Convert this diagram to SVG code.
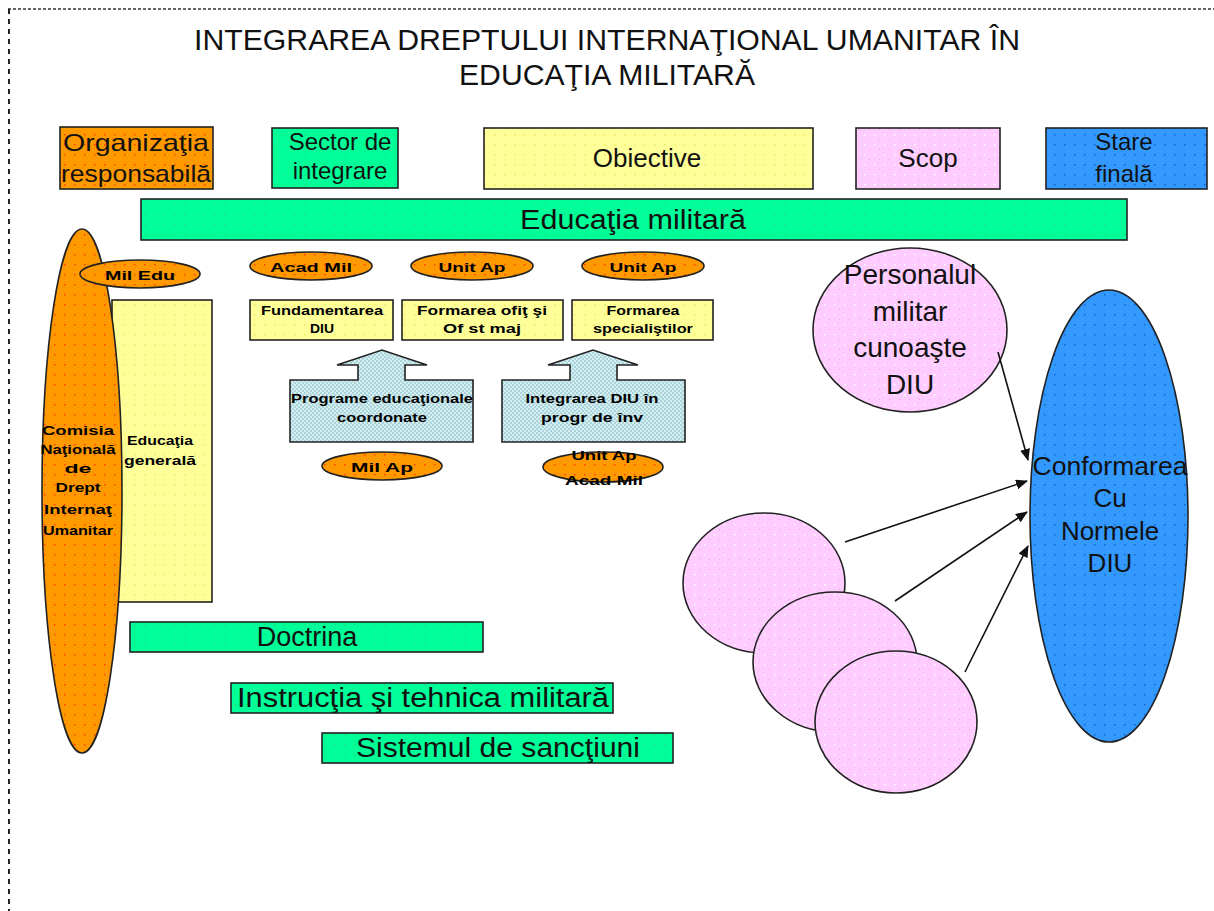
<svg xmlns="http://www.w3.org/2000/svg" width="1214" height="911" viewBox="0 0 1214 911">
<style>
.b{stroke:#222;stroke-width:1.6}
.t{font-family:"Liberation Sans",Arial,sans-serif;fill:#111;text-anchor:middle}
.s{font-family:"Liberation Sans",Arial,sans-serif;font-weight:bold;font-size:12px;fill:#000;text-anchor:middle}
.c{stroke:#111;stroke-width:1.6;fill:none;marker-end:url(#ah)}
</style>
<defs>
<pattern id="pOr" width="10" height="10" patternUnits="userSpaceOnUse"><rect width="10" height="10" fill="#FF9900"/><rect x="4" y="4" width="1.5" height="1.5" fill="#FF4400"/></pattern>
<pattern id="pGr" width="10" height="10" patternUnits="userSpaceOnUse"><rect width="10" height="10" fill="#00FF99"/><rect x="4" y="4" width="1.5" height="1.5" fill="#22DD77"/></pattern>
<pattern id="pYe" width="10" height="10" patternUnits="userSpaceOnUse"><rect width="10" height="10" fill="#FFFF99"/><rect x="4" y="4" width="1.5" height="1.5" fill="#EEEE66"/></pattern>
<pattern id="pPk" width="10" height="10" patternUnits="userSpaceOnUse"><rect width="10" height="10" fill="#FFCCFF"/><rect x="4" y="4" width="1.5" height="1.5" fill="#FFFFFF"/><rect x="9" y="9" width="1" height="1" fill="#FF99EE"/></pattern>
<pattern id="pBl" width="10" height="10" patternUnits="userSpaceOnUse"><rect width="10" height="10" fill="#3399FF"/><rect x="4" y="4" width="1.5" height="1.5" fill="#1166CC"/></pattern>
<pattern id="pCy" width="4" height="4" patternUnits="userSpaceOnUse"><rect width="4" height="4" fill="#D6EEF2"/><rect width="2" height="2" fill="#A8D4DA"/><rect x="2" y="2" width="2" height="2" fill="#A8D4DA"/></pattern>
<marker id="ah" viewBox="0 0 12 10" refX="11" refY="5" markerWidth="12" markerHeight="10" markerUnits="userSpaceOnUse" orient="auto"><path d="M0,0 L12,5 L0,10 Z" fill="#111"/></marker>
</defs>

<g id="frame">
<line x1="8" y1="9" x2="1214" y2="9" stroke="#333" stroke-width="1.5" stroke-dasharray="3 2"/>
<line x1="9" y1="9" x2="9" y2="911" stroke="#222" stroke-width="2" stroke-dasharray="5 5"/>
</g>

<g id="title">
<text class="t" x="607" y="50" font-size="29" textLength="826" lengthAdjust="spacingAndGlyphs">INTEGRAREA DREPTULUI INTERNAŢIONAL UMANITAR ÎN</text>
<text class="t" x="607" y="85" font-size="29" textLength="296" lengthAdjust="spacingAndGlyphs">EDUCAŢIA MILITARĂ</text>
</g>

<g id="h-org">
<rect class="b" x="60" y="127" width="153" height="62" fill="url(#pOr)"/>
<text class="t" x="136" y="151" font-size="24" textLength="146" lengthAdjust="spacingAndGlyphs">Organizaţia</text>
<text class="t" x="136" y="182" font-size="24" textLength="150" lengthAdjust="spacingAndGlyphs">responsabilă</text>
</g>
<g id="h-sector">
<rect class="b" x="272" y="128" width="126" height="60" fill="url(#pGr)"/>
<text class="t" x="340" y="150" font-size="24">Sector de</text>
<text class="t" x="340" y="179" font-size="24">integrare</text>
</g>
<g id="h-obiective">
<rect class="b" x="484" y="128" width="329" height="61" fill="url(#pYe)"/>
<text class="t" x="647" y="167" font-size="26">Obiective</text>
</g>
<g id="h-scop">
<rect class="b" x="856" y="128" width="144" height="61" fill="url(#pPk)"/>
<text class="t" x="928" y="167" font-size="26">Scop</text>
</g>
<g id="h-stare">
<rect class="b" x="1046" y="128" width="161" height="61" fill="url(#pBl)"/>
<text class="t" x="1124" y="150" font-size="24">Stare</text>
<text class="t" x="1124" y="182" font-size="24">finală</text>
</g>

<g id="educatia-militara">
<rect class="b" x="141" y="199" width="986" height="41" fill="url(#pGr)"/>
<text class="t" x="633" y="229" font-size="27" textLength="226" lengthAdjust="spacingAndGlyphs">Educaţia militară</text>
</g>

<g id="educatia-generala">
<rect class="b" x="112" y="300" width="100" height="302" fill="url(#pYe)"/>
<text class="s" x="160" y="445" textLength="66" lengthAdjust="spacingAndGlyphs">Educaţia</text>
<text class="s" x="160" y="465" textLength="72" lengthAdjust="spacingAndGlyphs">generală</text>
</g>

<g id="comisia">
<ellipse class="b" cx="82" cy="491" rx="40" ry="262" fill="url(#pOr)"/>
<text class="s" x="78" y="435" textLength="72" lengthAdjust="spacingAndGlyphs">Comisia</text>
<text class="s" x="78" y="454" textLength="75" lengthAdjust="spacingAndGlyphs">Naţională</text>
<text class="s" x="78" y="473" textLength="27" lengthAdjust="spacingAndGlyphs">de</text>
<text class="s" x="78" y="492" textLength="45" lengthAdjust="spacingAndGlyphs">Drept</text>
<text class="s" x="78" y="514" textLength="68" lengthAdjust="spacingAndGlyphs">Internaţ</text>
<text class="s" x="78" y="535" textLength="70" lengthAdjust="spacingAndGlyphs">Umanitar</text>
</g>

<g id="mil-edu">
<ellipse class="b" cx="140" cy="274" rx="60" ry="14" fill="url(#pOr)"/>
<text class="s" x="140" y="280" textLength="70" lengthAdjust="spacingAndGlyphs">Mil Edu</text>
</g>

<g id="acad-mil">
<ellipse class="b" cx="311" cy="266" rx="61" ry="14" fill="url(#pOr)"/>
<text class="s" x="311" y="272" textLength="82" lengthAdjust="spacingAndGlyphs">Acad Mil</text>
</g>
<g id="unit-ap-1">
<ellipse class="b" cx="472" cy="266" rx="61" ry="14" fill="url(#pOr)"/>
<text class="s" x="472" y="272" textLength="67" lengthAdjust="spacingAndGlyphs">Unit Ap</text>
</g>
<g id="unit-ap-2">
<ellipse class="b" cx="643" cy="266" rx="61" ry="14" fill="url(#pOr)"/>
<text class="s" x="643" y="272" textLength="67" lengthAdjust="spacingAndGlyphs">Unit Ap</text>
</g>

<g id="fundamentarea">
<rect class="b" x="250" y="300" width="143" height="40" fill="url(#pYe)"/>
<text class="s" x="322" y="315" textLength="122" lengthAdjust="spacingAndGlyphs">Fundamentarea</text>
<text class="s" x="322" y="333" textLength="24" lengthAdjust="spacingAndGlyphs">DIU</text>
</g>
<g id="formarea-ofiteri">
<rect class="b" x="402" y="300" width="161" height="40" fill="url(#pYe)"/>
<text class="s" x="482" y="315" textLength="130" lengthAdjust="spacingAndGlyphs">Formarea ofiţ  şi</text>
<text class="s" x="482" y="333" textLength="78" lengthAdjust="spacingAndGlyphs">Of st maj</text>
</g>
<g id="formarea-specialisti">
<rect class="b" x="572" y="300" width="141" height="40" fill="url(#pYe)"/>
<text class="s" x="643" y="315" textLength="73" lengthAdjust="spacingAndGlyphs">Formarea</text>
<text class="s" x="643" y="333" textLength="100" lengthAdjust="spacingAndGlyphs">specialiştilor</text>
</g>

<g id="programe">
<path class="b" d="M290,380 L358,380 L358,365 L337,365 L382,350 L427,365 L405,365 L405,380 L473,380 L473,442 L290,442 Z" fill="url(#pCy)"/>
<text class="s" x="382" y="403" textLength="182" lengthAdjust="spacingAndGlyphs">Programe educaţionale</text>
<text class="s" x="382" y="422" textLength="90" lengthAdjust="spacingAndGlyphs">coordonate</text>
</g>
<g id="integrarea">
<path class="b" d="M502,380 L570,380 L570,365 L548,365 L593,350 L638,365 L617,365 L617,380 L685,380 L685,442 L502,442 Z" fill="url(#pCy)"/>
<text class="s" x="592" y="403" textLength="133" lengthAdjust="spacingAndGlyphs">Integrarea DIU în</text>
<text class="s" x="592" y="422" textLength="102" lengthAdjust="spacingAndGlyphs">progr de înv</text>
</g>

<g id="mil-ap">
<ellipse class="b" cx="382" cy="466" rx="60" ry="14" fill="url(#pOr)"/>
<text class="s" x="382" y="472" textLength="62" lengthAdjust="spacingAndGlyphs">Mil Ap</text>
</g>
<g id="unit-ap-acad-mil">
<ellipse class="b" cx="603" cy="467" rx="60" ry="15" fill="url(#pOr)"/>
<text class="s" x="604" y="460" textLength="65" lengthAdjust="spacingAndGlyphs">Unit Ap</text>
<text class="s" x="604" y="485" textLength="78" lengthAdjust="spacingAndGlyphs">Acad Mil</text>
</g>

<g id="doctrina">
<rect class="b" x="130" y="622" width="353" height="30" fill="url(#pGr)"/>
<text class="t" x="307" y="646" font-size="27">Doctrina</text>
</g>
<g id="instructia">
<rect class="b" x="231" y="683" width="382" height="30" fill="url(#pGr)"/>
<text class="t" x="423" y="707" font-size="27" textLength="372" lengthAdjust="spacingAndGlyphs">Instrucţia şi tehnica militară</text>
</g>
<g id="sistemul">
<rect class="b" x="322" y="733" width="351" height="30" fill="url(#pGr)"/>
<text class="t" x="498" y="757" font-size="27" textLength="284" lengthAdjust="spacingAndGlyphs">Sistemul de sancţiuni</text>
</g>

<g id="personalul">
<ellipse class="b" cx="910" cy="330" rx="97" ry="82" fill="url(#pPk)"/>
<text class="t" x="910" y="284" font-size="28">Personalul</text>
<text class="t" x="910" y="321" font-size="28">militar</text>
<text class="t" x="910" y="357" font-size="28">cunoaşte</text>
<text class="t" x="910" y="394" font-size="28">DIU</text>
</g>

<g id="cerc-1">
<ellipse class="b" cx="764" cy="583" rx="81" ry="70" fill="url(#pPk)"/>
</g>
<g id="cerc-2">
<ellipse class="b" cx="835" cy="662" rx="82" ry="70" fill="url(#pPk)"/>
</g>
<g id="cerc-3">
<ellipse class="b" cx="896" cy="722" rx="81" ry="71" fill="url(#pPk)"/>
</g>

<g id="conformarea">
<ellipse class="b" cx="1109" cy="516" rx="79" ry="226" fill="url(#pBl)"/>
<text class="t" x="1110" y="475" font-size="26" textLength="155" lengthAdjust="spacingAndGlyphs">Conformarea</text>
<text class="t" x="1110" y="507" font-size="26">Cu</text>
<text class="t" x="1110" y="540" font-size="26">Normele</text>
<text class="t" x="1110" y="572" font-size="26">DIU</text>
</g>

<g id="connectors">
<line class="c" x1="998" y1="352" x2="1028" y2="460"/>
<line class="c" x1="845" y1="542" x2="1027" y2="481"/>
<line class="c" x1="895" y1="601" x2="1027" y2="512"/>
<line class="c" x1="965" y1="672" x2="1028" y2="546"/>
</g>
</svg>
